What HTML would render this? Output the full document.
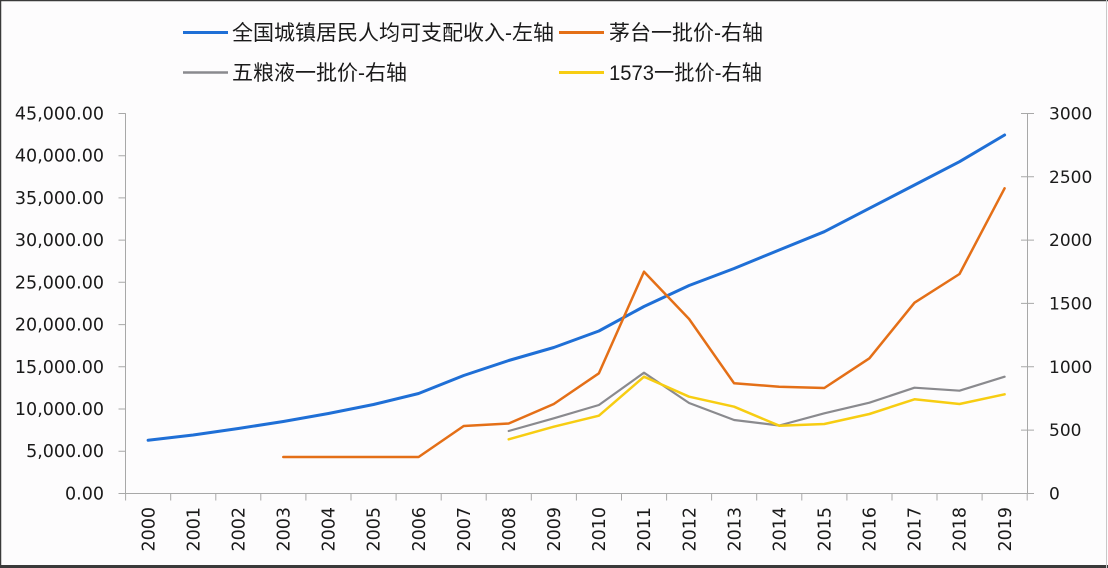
<!DOCTYPE html>
<html>
<head>
<meta charset="utf-8">
<style>
  html,body{margin:0;padding:0;background:#fdfcfd;}
  body{width:1108px;height:568px;overflow:hidden;position:relative;}
  svg{position:absolute;left:0;top:0;}
  .num{font-family:"DejaVu Sans","Liberation Sans",sans-serif;fill:#1a1a1a;}
  .leg{font-family:"Liberation Sans","Noto Sans CJK SC",sans-serif;font-size:21px;fill:#1a1a1a;}
</style>
</head>
<body>
<svg width="1108" height="568" viewBox="0 0 1108 568" xmlns="http://www.w3.org/2000/svg">
  <rect x="0" y="0" width="1108" height="568" fill="#fdfcfd"/>
  <!-- frame -->
  <line x1="0.5" y1="0" x2="0.5" y2="568" stroke="#3a3a3a" stroke-width="1.5"/>
  <line x1="0" y1="0.5" x2="1108" y2="0.5" stroke="#3a3a3a" stroke-width="1.5"/>
  <line x1="0" y1="566.5" x2="1108" y2="566.5" stroke="#3a3a3a" stroke-width="3"/>
  <line x1="1106.5" y1="0" x2="1106.5" y2="568" stroke="#c8c8c8" stroke-width="1"/>

  <!-- legend -->
  <line x1="183" y1="32.5" x2="228" y2="32.5" stroke="#1f6fd6" stroke-width="3"/>
  <text class="leg" x="232" y="40">全国城镇居民人均可支配收入-左轴</text>
  <line x1="559" y1="32.5" x2="604" y2="32.5" stroke="#e46f17" stroke-width="3"/>
  <text class="leg" x="609" y="40">茅台一批价-右轴</text>
  <line x1="183" y1="72.5" x2="228" y2="72.5" stroke="#8a8a8e" stroke-width="2.5"/>
  <text class="leg" x="232" y="80">五粮液一批价-右轴</text>
  <line x1="559" y1="72.5" x2="604" y2="72.5" stroke="#f7cd12" stroke-width="3"/>
  <text class="leg" x="609" y="80" textLength="153" lengthAdjust="spacingAndGlyphs">1573一批价-右轴</text>

  <!-- axes -->
  <g stroke="#a8a8a8" stroke-width="1" fill="none">
    <line x1="125.5" y1="113.3" x2="125.5" y2="493.5"/>
    <line x1="1027.5" y1="113.3" x2="1027.5" y2="493.5"/>
    <line x1="125.5" y1="493.5" x2="1027.5" y2="493.5"/>
    <!-- left ticks -->
    <path d="M118.5 113.5H125.5M118.5 155.7H125.5M118.5 197.9H125.5M118.5 240.1H125.5M118.5 282.3H125.5M118.5 324.6H125.5M118.5 366.8H125.5M118.5 409H125.5M118.5 451.2H125.5M118.5 493.5H125.5"/>
    <!-- right ticks -->
    <path d="M1021 113.5H1034M1021 176.8H1034M1021 240.1H1034M1021 303.4H1034M1021 366.8H1034M1021 430.1H1034M1021 493.5H1034"/>
    <!-- x ticks -->
    <path d="M125.6 493.5V500.5M170.7 493.5V500.5M215.8 493.5V500.5M260.8 493.5V500.5M305.9 493.5V500.5M351 493.5V500.5M396.1 493.5V500.5M441.2 493.5V500.5M486.2 493.5V500.5M531.3 493.5V500.5M576.4 493.5V500.5M621.5 493.5V500.5M666.6 493.5V500.5M711.6 493.5V500.5M756.7 493.5V500.5M801.8 493.5V500.5M846.9 493.5V500.5M892 493.5V500.5M937 493.5V500.5M982.1 493.5V500.5M1027.2 493.5V500.5"/>
  </g>

  <!-- left labels -->
  <g class="num" font-size="17.5" text-anchor="end">
    <text x="104" y="119.5">45,000.00</text>
    <text x="104" y="161.7">40,000.00</text>
    <text x="104" y="203.9">35,000.00</text>
    <text x="104" y="246.1">30,000.00</text>
    <text x="104" y="288.3">25,000.00</text>
    <text x="104" y="330.6">20,000.00</text>
    <text x="104" y="372.8">15,000.00</text>
    <text x="104" y="415">10,000.00</text>
    <text x="104" y="457.2">5,000.00</text>
    <text x="104" y="499.5">0.00</text>
  </g>
  <!-- right labels -->
  <g class="num" font-size="17">
    <text x="1049" y="119.5">3000</text>
    <text x="1049" y="182.8">2500</text>
    <text x="1049" y="246.1">2000</text>
    <text x="1049" y="309.4">1500</text>
    <text x="1049" y="372.8">1000</text>
    <text x="1049" y="436.1">500</text>
    <text x="1049" y="499.5">0</text>
  </g>
  <!-- year labels -->
  <g class="num" font-size="17.5" text-anchor="end">
    <text transform="translate(154.3,507) rotate(-90)">2000</text>
    <text transform="translate(199.4,507) rotate(-90)">2001</text>
    <text transform="translate(244.5,507) rotate(-90)">2002</text>
    <text transform="translate(289.5,507) rotate(-90)">2003</text>
    <text transform="translate(334.6,507) rotate(-90)">2004</text>
    <text transform="translate(379.7,507) rotate(-90)">2005</text>
    <text transform="translate(424.8,507) rotate(-90)">2006</text>
    <text transform="translate(469.9,507) rotate(-90)">2007</text>
    <text transform="translate(514.9,507) rotate(-90)">2008</text>
    <text transform="translate(560,507) rotate(-90)">2009</text>
    <text transform="translate(605.1,507) rotate(-90)">2010</text>
    <text transform="translate(650.2,507) rotate(-90)">2011</text>
    <text transform="translate(695.3,507) rotate(-90)">2012</text>
    <text transform="translate(740.3,507) rotate(-90)">2013</text>
    <text transform="translate(785.4,507) rotate(-90)">2014</text>
    <text transform="translate(830.5,507) rotate(-90)">2015</text>
    <text transform="translate(875.6,507) rotate(-90)">2016</text>
    <text transform="translate(920.7,507) rotate(-90)">2017</text>
    <text transform="translate(965.7,507) rotate(-90)">2018</text>
    <text transform="translate(1010.8,507) rotate(-90)">2019</text>
  </g>

  <!-- series -->
  <g fill="none" stroke-linejoin="round" stroke-linecap="round">
    <polyline stroke="#1f6fd6" stroke-width="3" points="148.1,440.3 193.2,435 238.3,428.5 283.3,421.5 328.4,413.5 373.5,404.5 418.6,393.5 463.7,375.5 508.7,360.5 553.8,347.5 598.9,331 644,306.5 689.1,285.5 734.1,268.5 779.2,250 824.3,231.7 869.4,208.3 914.5,185 959.5,161.7 1004.6,135"/>
    <polyline stroke="#e46f17" stroke-width="2.5" points="283.3,457 328.4,457 373.5,457 418.6,457 463.7,426 508.7,423.5 553.8,404 598.9,373.3 644,271.7 689.1,319 734.1,383.3 779.2,386.7 824.3,388 869.4,358.3 914.5,302.7 959.5,274 1004.6,188.3"/>
    <polyline stroke="#8a8a8e" stroke-width="2.2" points="508.7,431 553.8,418.3 598.9,405 644,372.7 689.1,403 734.1,420 779.2,425.5 824.3,413.3 869.4,402.7 914.5,387.7 959.5,390.7 1004.6,376.7"/>
    <polyline stroke="#f7cd12" stroke-width="2.5" points="508.7,439.3 553.8,426.7 598.9,415.7 644,376.7 689.1,396.7 734.1,406.7 779.2,425.7 824.3,424 869.4,414 914.5,399.3 959.5,404 1004.6,394.3"/>
  </g>
</svg>
</body>
</html>
